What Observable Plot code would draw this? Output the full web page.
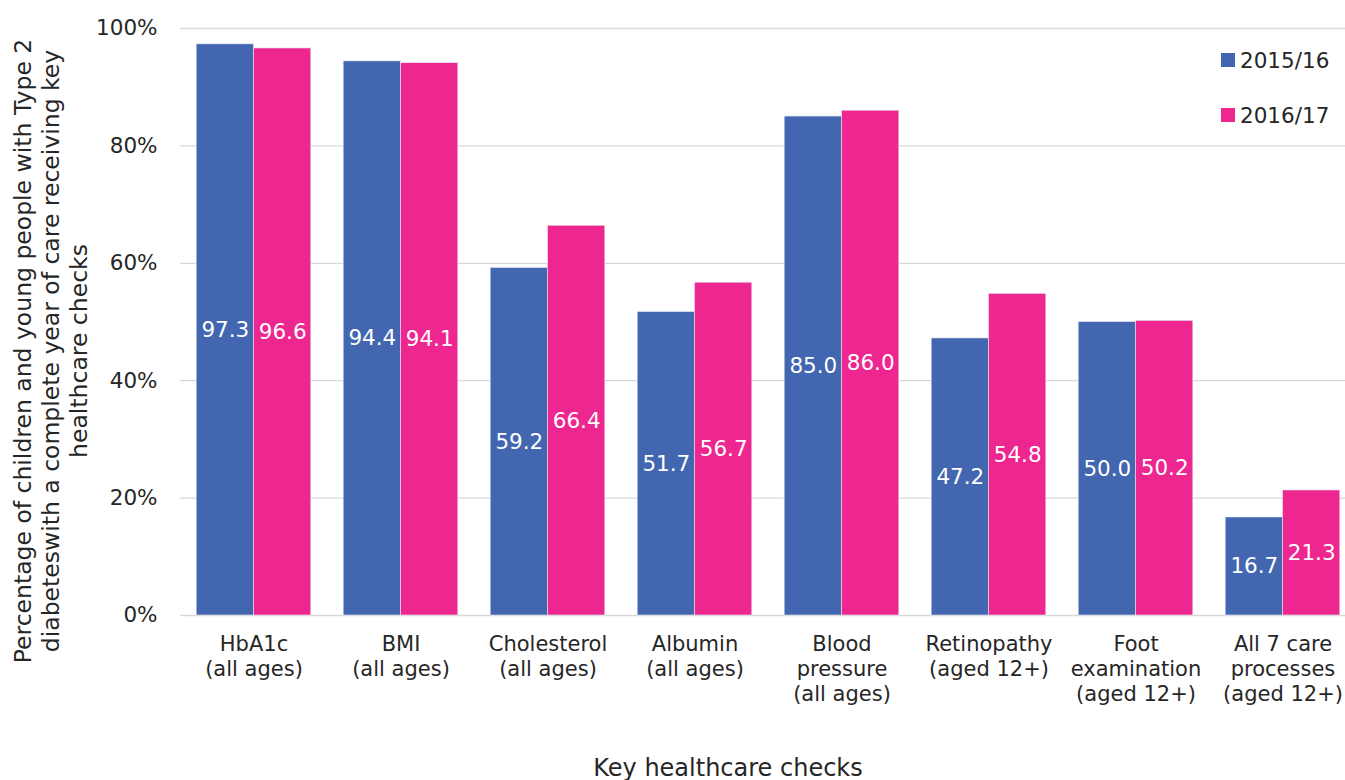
<!DOCTYPE html>
<html>
<head>
<meta charset="utf-8">
<script src="https://cdn.jsdelivr.net/npm/d3@7"></script>
<script src="https://cdn.jsdelivr.net/npm/@observablehq/plot@0.6"></script>
<style>
  html, body { margin: 0; padding: 0; background: #fff; }
  #wrap { position: relative; width: 1345px; height: 780px; font-family: "DejaVu Sans", sans-serif; }
  #legend { position: absolute; left: 1221px; top: 44px; font-size: 21.5px; color: #262626; }
  #legend div { display: flex; align-items: center; height: 32px; margin-bottom: 23px; }
  #legend span.sw { display: inline-block; width: 14px; height: 14px; margin-right: 5px; }
</style>
</head>
<body>
<div id="wrap">
  <div id="chart"></div>
  <div id="legend"></div>
</div>
<script>
const categories = ["HbA1c", "BMI", "Cholesterol", "Albumin", "Blood pressure", "Retinopathy", "Foot examination", "All 7 care processes"];
const tickLabels = ["HbA1c\n(all ages)", "BMI\n(all ages)", "Cholesterol\n(all ages)", "Albumin\n(all ages)", "Blood\npressure\n(all ages)", "Retinopathy\n(aged 12+)", "Foot\nexamination\n(aged 12+)", "All 7 care\nprocesses\n(aged 12+)"];
const series = ["2015/16", "2016/17"];
const values2015 = [97.3, 94.4, 59.2, 51.7, 85.0, 47.2, 50.0, 16.7];
const values2016 = [96.6, 94.1, 66.4, 56.7, 86.0, 54.8, 50.2, 21.3];
const colors = ["#4266AF", "#EE2790"];
const yTicks = [0, 20, 40, 60, 80, 100];
const yTitle = "Percentage of children and young people with Type 2\ndiabeteswith a complete year of care receiving key\nhealthcare checks";
const xTitle = "Key healthcare checks";

const half = 0.39; // bar width as fraction of a category step
const rows = [];
categories.forEach((c, i) => {
  rows.push({cat: c, i, series: series[0], value: values2015[i], x1: i - half, x2: i});
  rows.push({cat: c, i, series: series[1], value: values2016[i], x1: i, x2: i + half});
});

const font = "DejaVu Sans, sans-serif";
const chart = Plot.plot({
  width: 1345,
  height: 780,
  marginTop: 28,
  marginBottom: 165,
  marginLeft: 180,
  marginRight: 0,
  style: {fontFamily: font, color: "#262626", background: "transparent"},
  x: {domain: [-0.5, 7.5], range: [180, 1356], axis: null},
  y: {domain: [0, 100], axis: null},
  color: {domain: series, range: colors},
  marks: [
    Plot.ruleY(yTicks, {stroke: "#d9d9d9", strokeWidth: 1.3}),
    Plot.rectY(rows, {x1: "x1", x2: "x2", y: "value", fill: "series", stroke: "#e8ecf5", strokeWidth: 0.6}),
    Plot.text(rows, {x: d => (d.x1 + d.x2) / 2, y: d => d.value / 2, text: d => d.value.toFixed(1), fill: "white", fontSize: 21.5}),
    Plot.text(yTicks, {x: -0.5, y: d => d, text: d => d + "%", textAnchor: "end", dx: -23, fontSize: 21.5, fill: "#262626"}),
    Plot.text(tickLabels, {x: (d, i) => i, y: 0, text: d => d, lineAnchor: "top", dy: 18, fontSize: 21, lineHeight: 1.19, fill: "#262626"}),
    Plot.text([yTitle], {frameAnchor: "left", rotate: -90, textAnchor: "middle", dx: -130, dy: 29, lineAnchor: "middle", lineHeight: 1.19, fontSize: 23.5, fill: "#262626"}),
    Plot.text([xTitle], {frameAnchor: "bottom", dx: -35, dy: 160, fontSize: 24, fill: "#262626"})
  ]
});
document.getElementById("chart").appendChild(chart);

const legend = document.getElementById("legend");
series.forEach((s, k) => {
  const row = document.createElement("div");
  const sw = document.createElement("span");
  sw.className = "sw";
  sw.style.background = colors[k];
  row.appendChild(sw);
  row.appendChild(document.createTextNode(s));
  legend.appendChild(row);
});
</script>
</body>
</html>
